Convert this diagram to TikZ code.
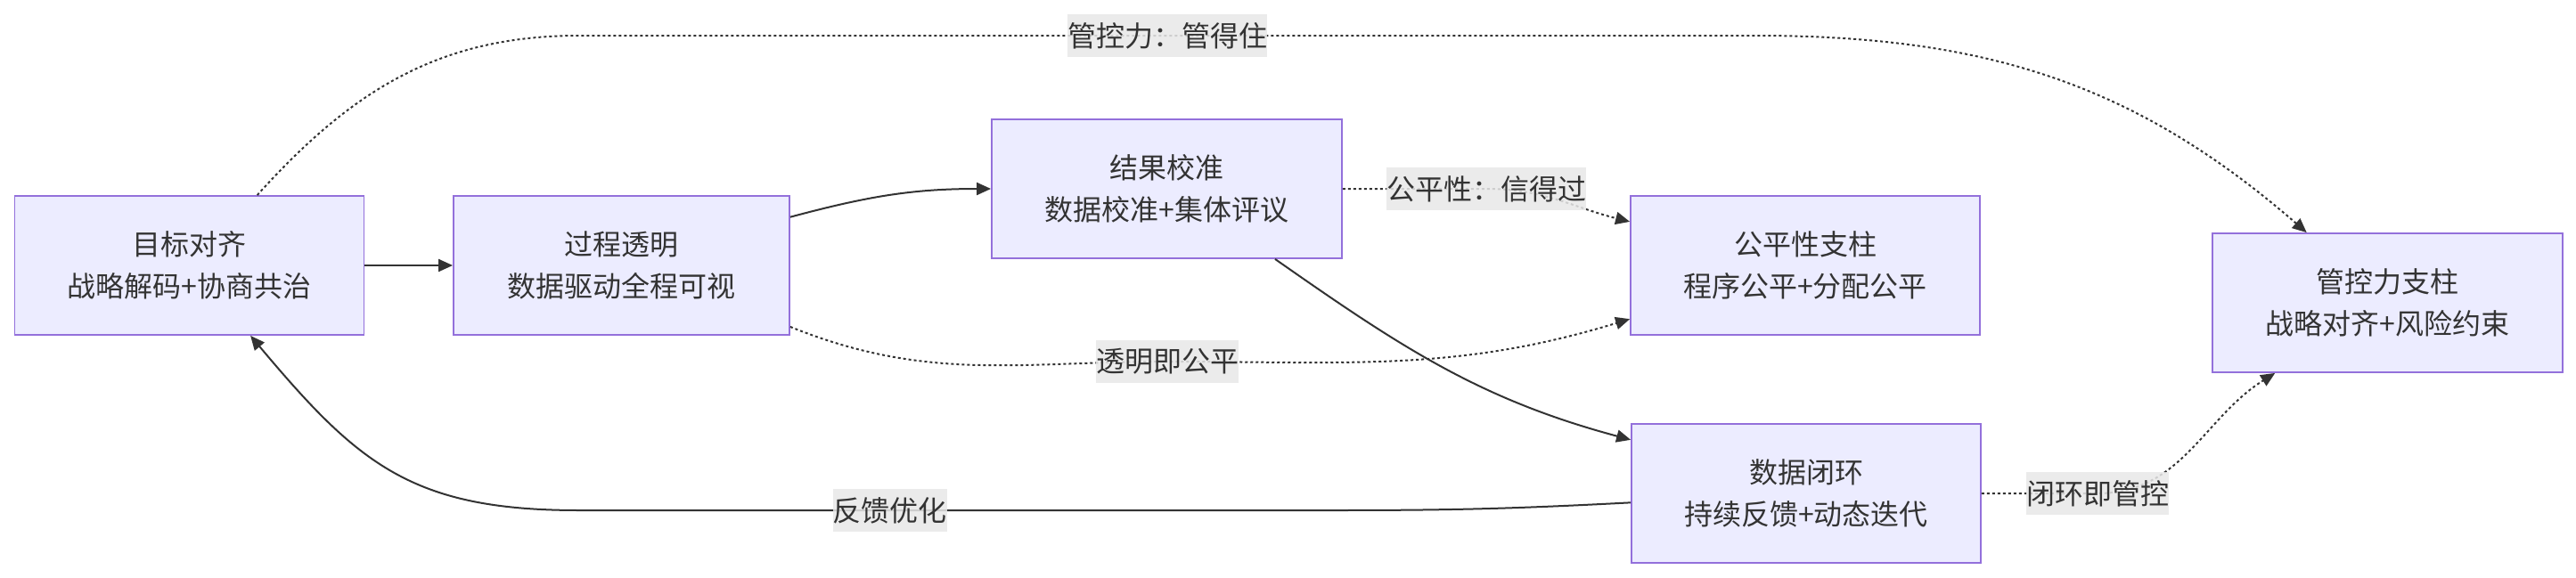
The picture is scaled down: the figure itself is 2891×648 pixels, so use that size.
\documentclass[tikz,border=0pt]{standalone}
\usepackage{fontspec}
\usepackage{xcolor}
\usepackage{tikz}
\usetikzlibrary{arrows.meta}
\setmainfont{Noto Sans CJK SC}
\definecolor{boxfill}{HTML}{ECECFF}
\definecolor{boxline}{HTML}{9370DB}
\definecolor{ink}{HTML}{333333}
\definecolor{lblfill}{HTML}{E8E8E8}
\newcommand{\flowfont}{\fontsize{16pt}{23.5pt}\selectfont}

\begin{document}
\begin{tikzpicture}[x=0.5pt, y=0.5pt, >={Triangle[length=8pt,width=7pt]},
  box/.style={draw=boxline, fill=boxfill, line width=0.9pt, text=ink,
    align=center, font=\flowfont, minimum height=78pt},
  lbl/.style={fill=lblfill, fill opacity=0.85, text opacity=1, text=ink,
    font=\flowfont, inner xsep=0pt, inner ysep=0pt, minimum height=24pt},
  flow/.style={->, draw=ink, line width=1pt},
  link/.style={->, draw=ink, line width=1pt, dash pattern=on 1.5pt off 1.5pt}]
  % page frame
  \useasboundingbox (0,0) rectangle (2891,-648);
  % the six blocks
  \node[box, minimum width=196pt] (goal) at (212.5,-298) {目标对齐\\战略解码+协商共治};
  \node[box, minimum width=188.5pt] (proc) at (697.5,-298) {过程透明\\数据驱动全程可视};
  \node[box, minimum width=196.5pt] (result) at (1309.5,-212) {结果校准\\数据校准+集体评议};
  \node[box, minimum width=196pt] (fair) at (2026,-298) {公平性支柱\\程序公平+分配公平};
  \node[box, minimum width=196pt] (loop) at (2027,-554) {数据闭环\\持续反馈+动态迭代};
  \node[box, minimum width=196.5pt] (ctrl) at (2679.5,-340) {管控力支柱\\战略对齐+风险约束};
  % main chain, solid
  \draw[flow] (goal) -- (proc);
  \draw[flow] (proc.16) to[out=15,in=180] (result.west);
  \draw[flow] (result.-33) to[out=-35,in=165] (loop.163);
  % feedback back to the start
  \draw[flow] (loop.183) to[out=183,in=0] (1500,-573)
    -- node[lbl,pos=0.59] (lblfb) {反馈优化} (650,-573)
    to[out=180,in=-50,looseness=1.15] (goal.-49);
  % dotted links into the two pillars
  \draw[link] (result.east) -- (1668,-212) node[lbl] (lblfair) {公平性：信得过}
    to[out=0,in=166] (fair.166);
  \draw[link] (proc.-20) to[out=-22,in=180] (1310,-406) node[lbl] (lbleq) {透明即公平}
    to[out=0,in=-163] (fair.197);
  \draw[link] (loop.east) -- (2354,-554) node[lbl] (lblloop) {闭环即管控}
    to[out=0,in=-148] (ctrl.-148);
  \draw[link] (goal.46) to[out=48,in=180] (650,-40)
    -- node[lbl] (lblctrl) {管控力：管得住} (1970,-40) to[out=0,in=139] (ctrl.139);
\end{tikzpicture}
\end{document}
